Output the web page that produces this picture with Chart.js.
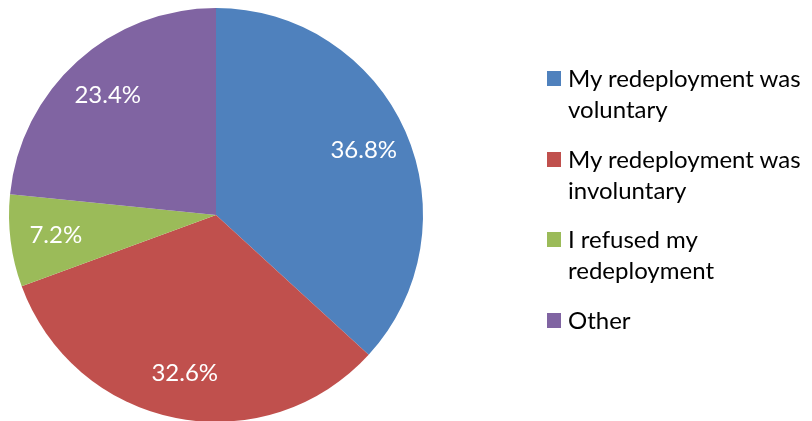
<!DOCTYPE html>
<html lang="en">
<head>
    <meta charset="UTF-8">
    <title>Redeployment</title>
    <script src="https://cdn.jsdelivr.net/npm/chart.js"></script>
    <style>
        html, body {
            margin: 0;
            padding: 0;
            background: #fff;
            overflow: hidden;
        }
        .wrap {
            position: relative;
            width: 812px;
            height: 430px;
        }
        #legend {
            position: absolute;
            left: 546px;
            top: 62px;
            font-family: Lato, "Noto Sans", sans-serif;
            font-size: 24px;
            color: #000;
            white-space: nowrap;
        }
        .item {
            position: relative;
            padding-left: 22px;
            line-height: 31px;
            margin-bottom: 18.5px;
        }
        .box {
            position: absolute;
            left: 1px;
            top: 9px;
            width: 14px;
            height: 15px;
        }
    </style>
</head>
<body>
    <div class="wrap">
        <canvas id="pie" width="812" height="430"></canvas>
        <div id="legend"></div>
    </div>

    <script>
        const categories = [
            ['My redeployment was', 'voluntary'],
            ['My redeployment was', 'involuntary'],
            ['I refused my', 'redeployment'],
            ['Other']
        ];
        const shares = [36.8, 32.6, 7.2, 23.4];
        const colors = ['#4F81BD', '#C0504D', '#9BBB59', '#8064A2'];

        // percentage labels inside each slice
        const sliceLabels = {
            id: 'sliceLabels',
            afterDatasetsDraw(chart) {
                const ctx = chart.ctx;
                const meta = chart.getDatasetMeta(0);
                ctx.save();
                ctx.fillStyle = '#fff';
                ctx.font = '24px Lato, "Noto Sans", sans-serif';
                ctx.textAlign = 'center';
                ctx.textBaseline = 'middle';
                meta.data.forEach((arc, i) => {
                    const p = arc.getProps(['x', 'y', 'startAngle', 'endAngle', 'outerRadius'], true);
                    const mid = (p.startAngle + p.endAngle) / 2;
                    const r = p.outerRadius * 0.78;
                    const value = chart.data.datasets[0].data[i];
                    ctx.fillText(value.toFixed(1) + '%', p.x + r * Math.cos(mid), p.y + r * Math.sin(mid));
                });
                ctx.restore();
            }
        };

        const chart = new Chart(document.getElementById('pie'), {
            type: 'pie',
            data: {
                labels: categories,
                datasets: [{
                    data: shares,
                    backgroundColor: colors,
                    borderWidth: 0
                }]
            },
            options: {
                responsive: false,
                animation: false,
                layout: {
                    padding: { left: 9, right: 389, top: 8, bottom: 8 }
                },
                plugins: {
                    legend: { display: false },
                    tooltip: { enabled: false }
                }
            },
            plugins: [sliceLabels]
        });

        // legend beside the pie
        const legend = document.getElementById('legend');
        chart.data.labels.forEach((label, i) => {
            const item = document.createElement('div');
            item.className = 'item';
            const box = document.createElement('span');
            box.className = 'box';
            box.style.background = colors[i];
            item.appendChild(box);
            const text = document.createElement('span');
            text.innerHTML = [].concat(label).join('<br>');
            item.appendChild(text);
            legend.appendChild(item);
        });
    </script>
</body>
</html>
